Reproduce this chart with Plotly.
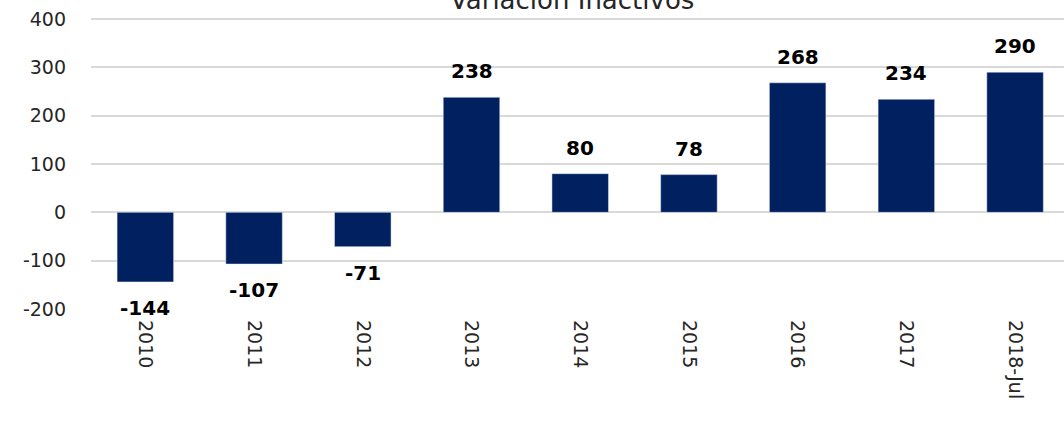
import plotly.graph_objects as go

# Datos
anios = ["2010", "2011", "2012", "2013", "2014", "2015", "2016", "2017", "2018-Jul"]
variacion = [-144, -107, -71, 238, 80, 78, 268, 234, 290]
y_ticks = [-200, -100, 0, 100, 200, 300, 400]
y_ticktext = ["-200", "-100", "0", "100", "200", "300", "400"]

COLOR_BARRA = "#002060"
COLOR_GRILLA = "#d9d9d9"
FUENTE = "DejaVu Sans"

fig = go.Figure()

fig.add_trace(go.Bar(
    x=anios,
    y=variacion,
    marker=dict(color=COLOR_BARRA),
    width=0.52,
    hovertemplate="%{x}: %{y}<extra></extra>",
))

# Etiquetas de valor (por encima / por debajo de cada barra)
for i, v in enumerate(variacion):
    fig.add_annotation(
        x=i, y=v,
        text=f"<b>{v}</b>",
        showarrow=False,
        yshift=26 if v >= 0 else -26,
        font=dict(size=20, color="black", family=FUENTE),
    )

# Título (recortado arriba, como en el original)
fig.add_annotation(
    text="Variación Inactivos",
    xref="paper", yref="paper", x=0.494, y=1,
    xanchor="center", yanchor="middle", yshift=17,
    showarrow=False,
    font=dict(size=26, color="#262626", family=FUENTE),
)

fig.update_layout(
    width=1064,
    height=422,
    margin=dict(l=91, r=0, t=17, b=113),
    plot_bgcolor="white",
    paper_bgcolor="white",
    showlegend=False,
    font=dict(family=FUENTE, size=19, color="#262626"),
    xaxis=dict(
        type="category",
        range=[-0.5, 8.45],
        tickangle=90,
        showgrid=False,
        showline=False,
        ticks="",
        ticklabelstandoff=10,
        tickfont=dict(size=19),
        automargin=False,
    ),
    yaxis=dict(
        range=[-200, 404.1],
        tickmode="array",
        tickvals=y_ticks,
        ticktext=y_ticktext,
        gridcolor=COLOR_GRILLA,
        gridwidth=1.5,
        zeroline=True,
        zerolinecolor=COLOR_GRILLA,
        zerolinewidth=1.5,
        showline=False,
        ticks="",
        ticklabelstandoff=24,
        tickfont=dict(size=19),
        automargin=False,
    ),
)

fig.write_html("out.html", config={"displayModeBar": False},
               post_script="document.body.style.margin='0';")
